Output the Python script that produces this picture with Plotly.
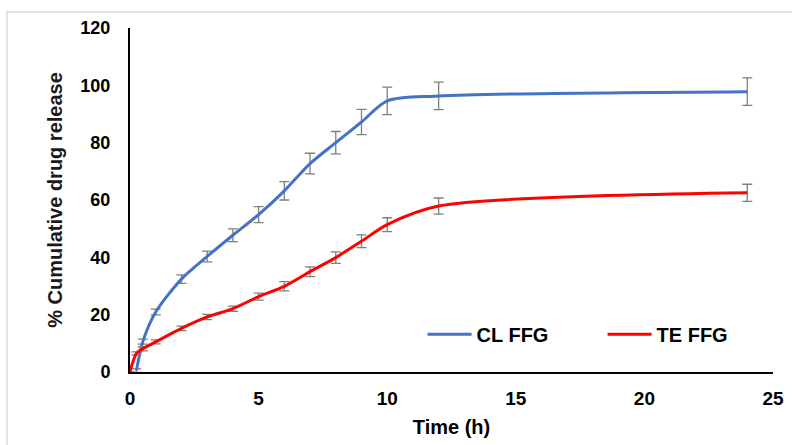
import plotly.graph_objects as go

# Sampling times (h)
cl_time = [0.25, 0.5, 1, 2, 3, 4, 5, 6, 7, 8, 9, 10, 12, 24]
te_time = [0, 0.25, 0.5, 1, 2, 3, 4, 5, 6, 7, 8, 9, 10, 12, 24]

# % cumulative drug release and SD
cl_release = [0.5, 10.6, 20.9, 32.4, 40.3, 47.7, 54.9, 63.2, 72.7, 80.0, 87.2, 94.6, 96.3, 97.8]
cl_sd = [0.6, 0.9, 1.0, 1.5, 1.9, 2.2, 2.8, 3.2, 3.6, 3.9, 4.4, 4.8, 4.8, 4.8]
te_release = [0, 6.5, 8.1, 10.5, 15.2, 19.2, 22.1, 26.3, 29.9, 35.0, 39.9, 45.6, 51.4, 57.9, 62.5]
te_sd = [0, 0.5, 0.7, 0.7, 0.8, 0.9, 0.9, 1.2, 1.6, 1.7, 2.0, 2.2, 2.4, 2.8, 3.0]

x_ticks = [0, 5, 10, 15, 20, 25]
y_ticks = [0, 20, 40, 60, 80, 100, 120]

FONT = "Liberation Sans, Arial, sans-serif"
err_style = dict(type="data", visible=True, color="#7f7f7f", thickness=1.3, width=5)

fig = go.Figure()
fig.add_trace(go.Scatter(
    x=cl_time, y=cl_release, name="CL FFG", mode="lines",
    line=dict(color="#4472C4", width=3, shape="spline", smoothing=0.8),
    error_y=dict(array=cl_sd, **err_style),
))
fig.add_trace(go.Scatter(
    x=te_time, y=te_release, name="TE FFG", mode="lines",
    line=dict(color="#FF0000", width=3, shape="spline", smoothing=0.8),
    error_y=dict(array=te_sd, **err_style),
))

# light outer frame of the chart area
fig.add_shape(type="rect", xref="paper", yref="paper",
              x0=-0.1913, x1=1.05, y0=-0.3, y1=1.0465,
              line=dict(color="#d9d9d9", width=1.5), layer="below")

fig.update_layout(
    width=792, height=445,
    margin=dict(l=130, r=19, t=28, b=73, autoexpand=False),
    paper_bgcolor="white", plot_bgcolor="white",
    font=dict(family=FONT, color="#000000"),
    showlegend=True,
    legend=dict(
        orientation="h", x=0.455, y=0.11, xanchor="left", yanchor="middle",
        bgcolor="rgba(0,0,0,0)", entrywidth=121, entrywidthmode="pixels",
        font=dict(family=FONT, size=20, weight="bold", color="#000000"),
        itemwidth=44,
    ),
    xaxis=dict(
        range=[0, 25], tickvals=x_ticks, showgrid=False, zeroline=False,
        showline=True, linecolor="#000000", linewidth=2, ticks="",
        tickfont=dict(family=FONT, size=19, weight="bold", color="#000000"),
        ticklabelstandoff=8, automargin=False,
        title=dict(text="Time (h)", standoff=12,
                   font=dict(family=FONT, size=20, weight="bold", color="#000000")),
    ),
    yaxis=dict(
        range=[0, 120], tickvals=y_ticks, showgrid=False, zeroline=False,
        showline=True, linecolor="#000000", linewidth=2, ticks="",
        tickfont=dict(family=FONT, size=18, weight="bold", color="#000000"),
        ticklabelstandoff=14, automargin=False,
        title=dict(text="% Cumulative drug release", standoff=12,
                   font=dict(family=FONT, size=20, weight="bold", color="#1a1a1a")),
    ),
)

fig.write_html("out.html")
